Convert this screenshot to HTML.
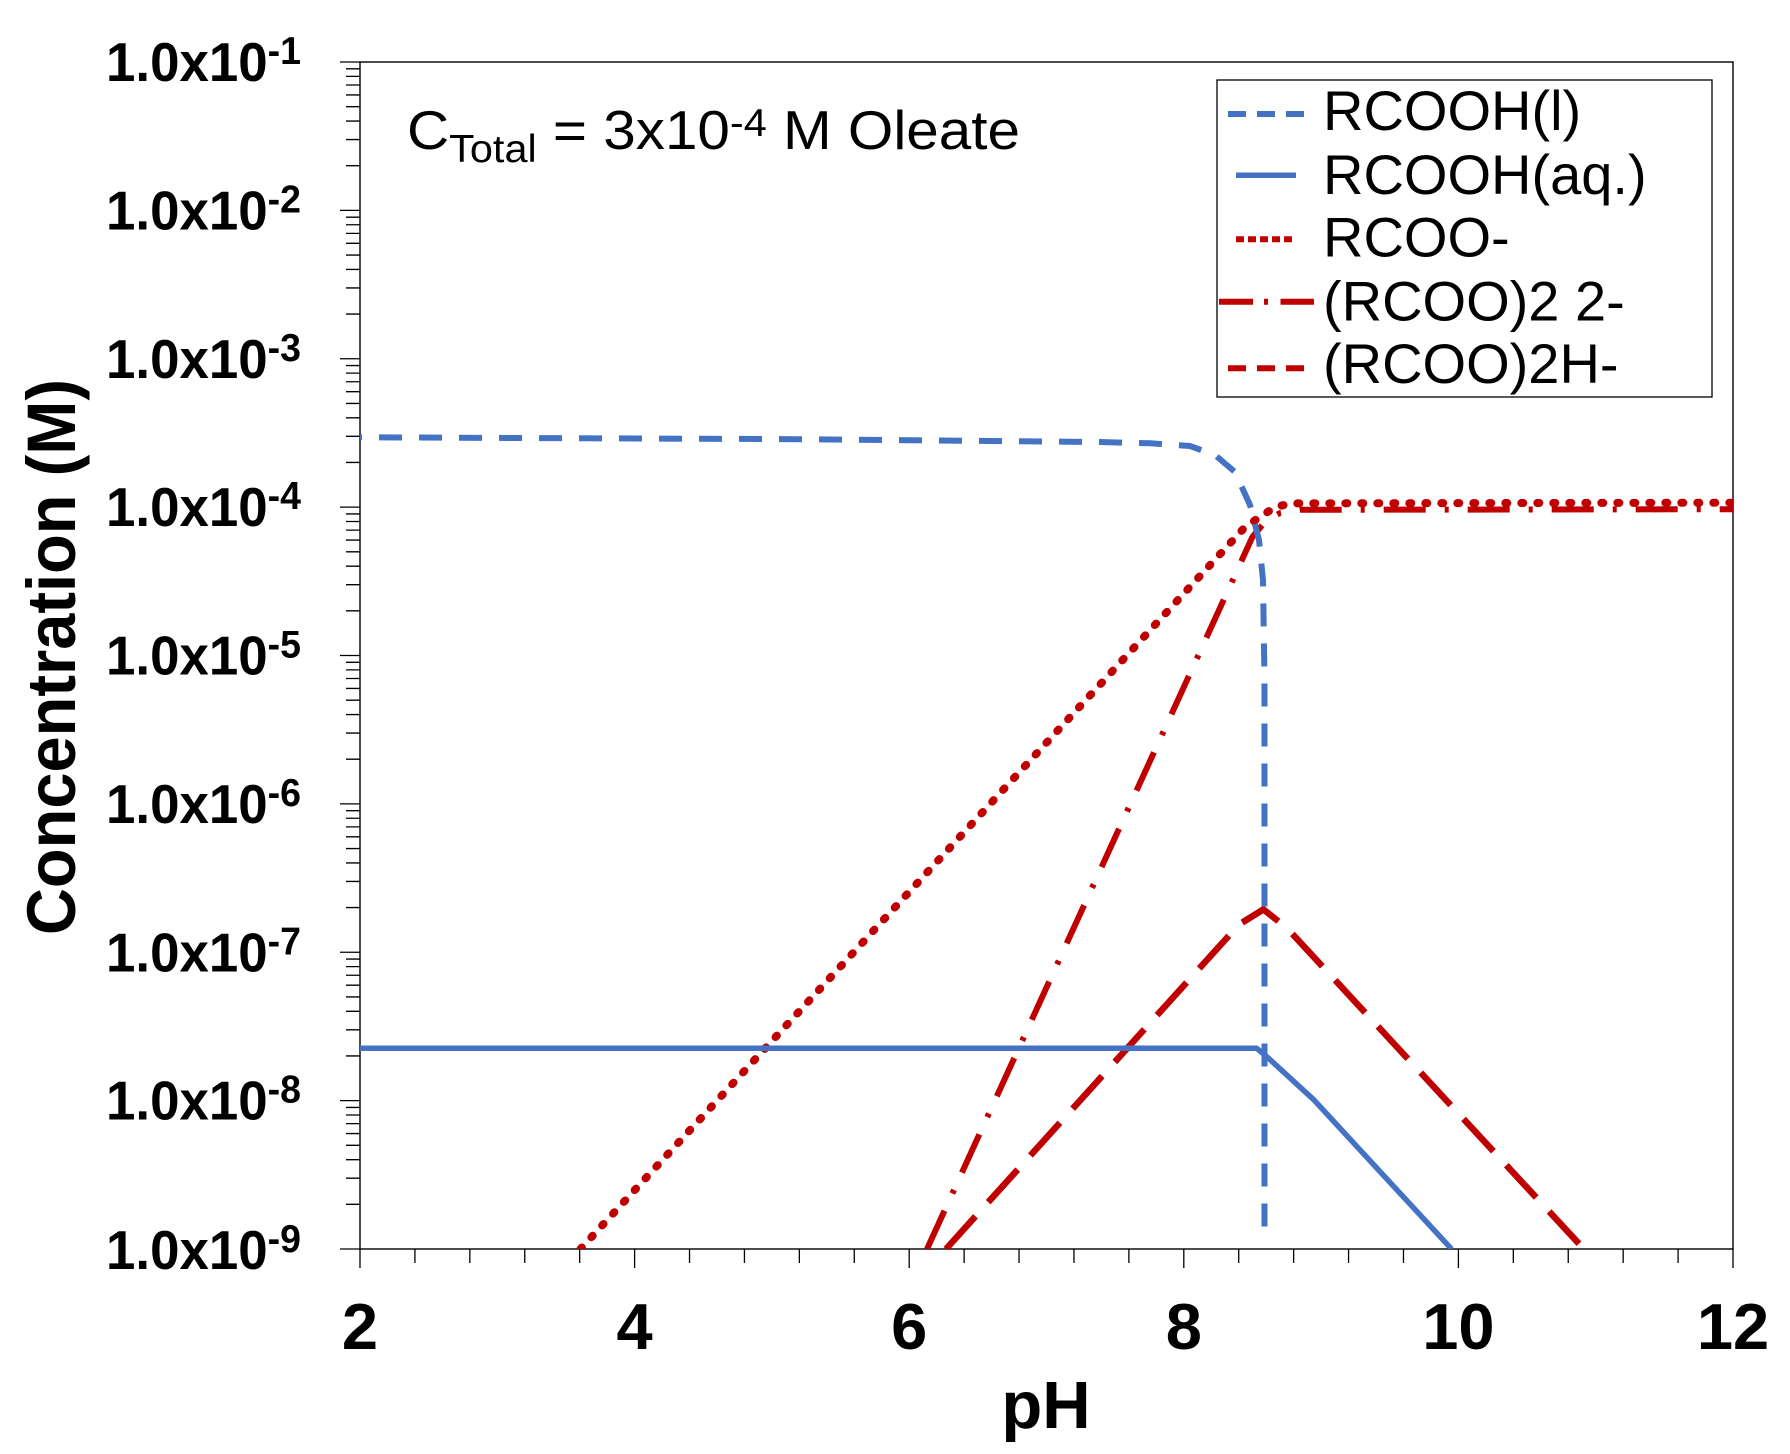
<!DOCTYPE html>
<html>
<head>
<meta charset="utf-8">
<style>
  html, body { margin: 0; padding: 0; background: #ffffff; }
  svg { display: block; }
  text { font-family: "Liberation Sans", Arial, sans-serif; fill: #000; }
</style>
</head>
<body>
<svg width="1790" height="1454" viewBox="0 0 1790 1454" xmlns="http://www.w3.org/2000/svg">
  <rect x="0" y="0" width="1790" height="1454" fill="#ffffff"/>
  <defs>
    <clipPath id="plot">
      <rect x="360" y="62" width="1373" height="1187"/>
    </clipPath>
    <g id="dec">
      <path d="M346 -44.67h14M346 -70.79h14M346 -89.33h14M346 -103.71h14M346 -115.46h14M346 -125.39h14M346 -134h14M346 -141.58h14" stroke="#000" stroke-width="1.3" fill="none"/>
    </g>
  </defs>

  <!-- Y minor ticks -->
  <use href="#dec" y="1249"/>
  <use href="#dec" y="1100.625"/>
  <use href="#dec" y="952.25"/>
  <use href="#dec" y="803.875"/>
  <use href="#dec" y="655.5"/>
  <use href="#dec" y="507.125"/>
  <use href="#dec" y="358.75"/>
  <use href="#dec" y="210.375"/>

  <!-- Y major ticks -->
  <path d="M340 62h20M340 210.375h20M340 358.75h20M340 507.125h20M340 655.5h20M340 803.875h20M340 952.25h20M340 1100.625h20M340 1249h20" stroke="#000" stroke-width="1.3" fill="none"/>

  <!-- X ticks -->
  <path d="M360 1249v19M634.6 1249v19M909.2 1249v19M1183.8 1249v19M1458.4 1249v19M1733 1249v19
           M414.92 1249v14M469.84 1249v14M524.76 1249v14M579.68 1249v14
           M689.52 1249v14M744.44 1249v14M799.36 1249v14M854.28 1249v14
           M964.12 1249v14M1019.04 1249v14M1073.96 1249v14M1128.88 1249v14
           M1238.72 1249v14M1293.64 1249v14M1348.56 1249v14M1403.48 1249v14
           M1513.32 1249v14M1568.24 1249v14M1623.16 1249v14M1678.08 1249v14" stroke="#000" stroke-width="1.3" fill="none"/>

  <!-- Plot border -->
  <rect x="360" y="62" width="1373" height="1187" fill="none" stroke="#000" stroke-width="1.4"/>

  <!-- Series -->
  <g clip-path="url(#plot)" fill="none">
    <!-- (RCOO)2H- long dash -->
    <polyline points="946,1249 1238.7,924.8 1263.4,909.4 1286.8,927.9 1579.2,1244"
      stroke="#C00000" stroke-width="6.5" stroke-dasharray="44 19" stroke-linejoin="round"/>
    <!-- (RCOO)2 2- dash-dot -->
    <polyline points="927,1249 1252.5,536.8 1266.2,520.5 1279.9,513.1 1300.5,509.8 1733,509.2"
      stroke="#C00000" stroke-width="6" stroke-dasharray="42 19 4 19" stroke-linejoin="round"/>
    <!-- RCOO- dotted -->
    <polyline points="580.5,1249 1245.6,526.4 1261.6,516 1275,507.1 1290.9,503.4 1733,502.7"
      stroke="#C00000" stroke-width="8" stroke-dasharray="2 14" stroke-linecap="round" stroke-linejoin="round"/>
    <!-- RCOOH(aq) solid -->
    <polyline points="360,1048.3 1256.6,1048.3 1266.2,1056.1 1313.3,1099.3 1451.5,1249"
      stroke="#4472C4" stroke-width="5.5" stroke-linejoin="round"/>
    <!-- RCOOH(l) dashed -->
    <polyline points="360,437.3 800,439.2 1100,442 1150,443.3 1190,446 1215,455 1235,472 1250,505 1259,540 1263,580 1264.5,680 1264.5,1230"
      stroke="#4472C4" stroke-width="6" stroke-dasharray="23 17" stroke-dashoffset="21" stroke-linejoin="round"/>
  </g>

  <!-- Y tick labels -->
  <g font-weight="bold" font-size="55" text-anchor="end">
    <text x="301" y="81" textLength="195" lengthAdjust="spacingAndGlyphs">1.0x10<tspan font-size="39" dy="-17">-1</tspan></text>
    <text x="301" y="229.4" textLength="195" lengthAdjust="spacingAndGlyphs">1.0x10<tspan font-size="39" dy="-17">-2</tspan></text>
    <text x="301" y="377.8" textLength="195" lengthAdjust="spacingAndGlyphs">1.0x10<tspan font-size="39" dy="-17">-3</tspan></text>
    <text x="301" y="526.1" textLength="195" lengthAdjust="spacingAndGlyphs">1.0x10<tspan font-size="39" dy="-17">-4</tspan></text>
    <text x="301" y="674.5" textLength="195" lengthAdjust="spacingAndGlyphs">1.0x10<tspan font-size="39" dy="-17">-5</tspan></text>
    <text x="301" y="822.9" textLength="195" lengthAdjust="spacingAndGlyphs">1.0x10<tspan font-size="39" dy="-17">-6</tspan></text>
    <text x="301" y="971.3" textLength="195" lengthAdjust="spacingAndGlyphs">1.0x10<tspan font-size="39" dy="-17">-7</tspan></text>
    <text x="301" y="1119.6" textLength="195" lengthAdjust="spacingAndGlyphs">1.0x10<tspan font-size="39" dy="-17">-8</tspan></text>
    <text x="301" y="1269" textLength="195" lengthAdjust="spacingAndGlyphs">1.0x10<tspan font-size="39" dy="-17">-9</tspan></text>
  </g>

  <!-- X tick labels -->
  <g font-weight="bold" font-size="65" text-anchor="middle">
    <text x="360" y="1349">2</text>
    <text x="634.6" y="1349">4</text>
    <text x="909.2" y="1349">6</text>
    <text x="1183.8" y="1349">8</text>
    <text x="1458.4" y="1349">10</text>
    <text x="1733" y="1349">12</text>
  </g>

  <!-- Axis titles -->
  <text x="1046" y="1428" font-weight="bold" font-size="67" text-anchor="middle">pH</text>
  <text transform="translate(75,657) rotate(-90)" x="0" y="0" font-weight="bold" font-size="69" text-anchor="middle" textLength="556" lengthAdjust="spacingAndGlyphs">Concentration (M)</text>

  <!-- Annotation -->
  <text x="407" y="149" font-size="55" textLength="613" lengthAdjust="spacingAndGlyphs">C<tspan font-size="39" dy="13">Total</tspan><tspan dy="-13"> = 3x10</tspan><tspan font-size="39" dy="-13">-4</tspan><tspan dy="13"> M Oleate</tspan></text>

  <!-- Legend -->
  <rect x="1217" y="80" width="495" height="317" fill="#ffffff" stroke="#000" stroke-width="1.3"/>
  <line x1="1228" y1="114" x2="1304" y2="114" stroke="#4472C4" stroke-width="6" stroke-dasharray="18 11"/>
  <line x1="1236" y1="175.3" x2="1296" y2="175.3" stroke="#4472C4" stroke-width="5.5"/>
  <line x1="1236" y1="239.3" x2="1293" y2="239.3" stroke="#C00000" stroke-width="6" stroke-dasharray="8 4"/>
  <path d="M1219 301.7H1253M1264 301.7H1268M1280.5 301.7H1314" stroke="#C00000" stroke-width="6" fill="none"/>
  <line x1="1228" y1="368.3" x2="1304" y2="368.3" stroke="#C00000" stroke-width="6" stroke-dasharray="18 11"/>
  <g font-size="56">
    <text x="1323" y="130">RCOOH(l)</text>
    <text x="1323" y="194">RCOOH(aq.)</text>
    <text x="1323" y="256.7">RCOO-</text>
    <text x="1323" y="320.7">(RCOO)2 2-</text>
    <text x="1323" y="383">(RCOO)2H-</text>
  </g>
</svg>
</body>
</html>
